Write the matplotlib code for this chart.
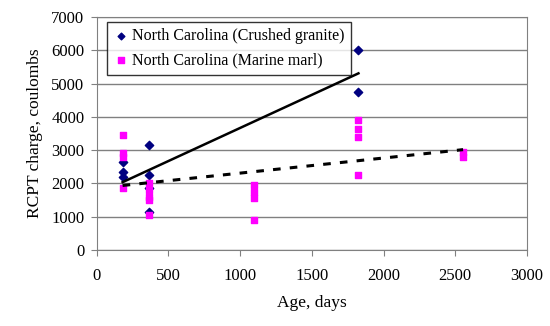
import numpy as np
import matplotlib
matplotlib.use("Agg")
import matplotlib.pyplot as plt

# data
age_granite = [180, 180, 180, 365, 365, 365, 365, 1825, 1825]
rcpt_granite = [2650, 2350, 2200, 3150, 2250, 1850, 1150, 6000, 4750]

age_marl = [180, 180, 180, 180, 365, 365, 365, 365, 365,
            1095, 1095, 1095, 1095, 1825, 1825, 1825, 1825, 2555, 2555]
rcpt_marl = [3450, 2900, 2800, 1850, 2000, 1800, 1600, 1500, 1050,
             1950, 1750, 1550, 900, 3900, 3650, 3400, 2250, 2950, 2800]

label_granite = "North Carolina (Crushed granite)"
label_marl = "North Carolina (Marine marl)"

plt.rcParams['font.family'] = ['Liberation Serif', 'DejaVu Serif']

fig = plt.figure(figsize=(5.5, 3.26), dpi=100)
ax = fig.add_axes([0.176, 0.233, 0.782, 0.715])

ax.scatter(age_granite, rcpt_granite, marker='D', s=18, color='#000080',
           label=label_granite, zorder=3)
ax.scatter(age_marl, rcpt_marl, marker='s', s=22, color='#FF00FF',
           label=label_marl, zorder=3)

# linear trend lines
p1 = np.polyfit(age_granite, rcpt_granite, 1)
xs1 = np.array([min(age_granite), max(age_granite)])
ax.plot(xs1, np.polyval(p1, xs1), color='black', lw=1.8, zorder=4)

p2 = np.polyfit(age_marl, rcpt_marl, 1)
xs2 = np.array([min(age_marl), max(age_marl)])
ax.plot(xs2, np.polyval(p2, xs2), color='black', lw=2.2, ls=(0, (2.5, 3)),
        zorder=4)

ax.set_xlim(0, 3000)
ax.set_ylim(0, 7000)
ax.set_xticks(range(0, 3001, 500))
ax.set_yticks(range(0, 7001, 1000))
ax.grid(axis='y', color='#808080', lw=1)
ax.set_axisbelow(True)
for s in ax.spines.values():
    s.set_color('#808080')
ax.tick_params(direction='out', length=4, color='#808080', labelsize=12,
               pad=5)
ax.tick_params(axis='x', pad=9)

ax.set_xlabel("Age, days", fontsize=12.5, labelpad=8)
ax.set_ylabel("RCPT charge, coulombs", fontsize=12.5, labelpad=6)

leg = ax.legend(loc='upper left', bbox_to_anchor=(0.023, 0.979),
                fontsize=11.5, frameon=True, fancybox=False,
                handletextpad=0.2, handlelength=1.0, borderpad=0.4,
                labelspacing=0.5, borderaxespad=0, markerscale=0.8)
leg.get_frame().set_edgecolor('black')
leg.get_frame().set_linewidth(1)

fig.savefig("out.png", dpi=100)
